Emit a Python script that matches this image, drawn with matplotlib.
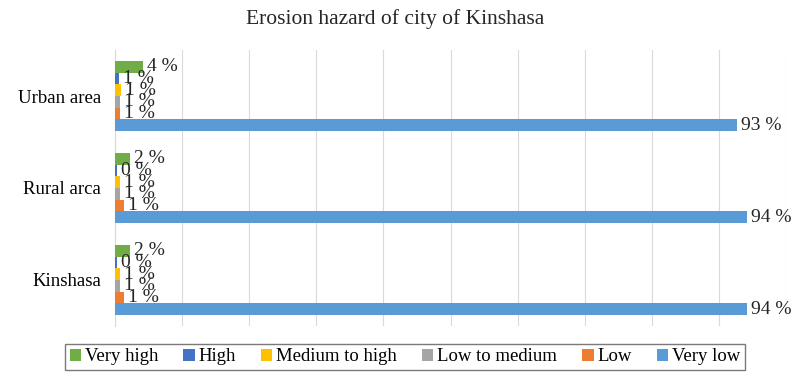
import numpy as np
import matplotlib.pyplot as plt

# ===== DATA =====
areas = ["Kinshasa", "Rural arca", "Urban area"]
classes = ["Very high", "High", "Medium to high", "Low to medium", "Low", "Very low"]
colors = ["#70AD47", "#4472C4", "#FFC000", "#A5A5A5", "#ED7D31", "#5B9BD5"]

# percent of area per hazard class (Kinshasa, Rural, Urban)
very_high = [2.3, 2.3, 4.2]
high = [0.3, 0.3, 0.6]
medium_high = [0.8, 0.8, 0.9]
low_medium = [0.7, 0.7, 0.7]
low = [1.4, 1.4, 0.7]
very_low = [94.2, 94.2, 92.7]
series = [very_high, high, medium_high, low_medium, low, very_low]

plt.rcParams["font.family"] = ["Liberation Serif", "DejaVu Serif"]

fig = plt.figure(figsize=(7.91, 3.78), dpi=100)
ax = fig.add_axes([0.1454, 0.1376, 0.8483, 0.7301])

y = np.arange(len(areas))
h = 0.127

for i, (name, vals, col) in enumerate(zip(classes, series, colors)):
    pos = y + (2.5 - i) * h
    ax.barh(pos, vals, height=h, color=col, label=name, zorder=3)
    for p, v in zip(pos, vals):
        ax.text(v + 0.6, p, f"{v:.0f} %", va="center", ha="left",
                fontsize=14, color="#262626", zorder=4)

# ===== AXES STYLE =====
ax.set_xlim(0, 100)
ax.set_ylim(-0.5, 2.5)
ax.set_xticks(np.arange(0, 101, 10))
ax.set_xticklabels([])
ax.tick_params(axis="x", length=0)
ax.tick_params(axis="y", length=0, labelsize=13.5, pad=10)
ax.set_yticks(y)
ax.set_yticklabels(areas)
ax.grid(axis="x", color="#D9D9D9", linewidth=0.8, zorder=0)
for s in ["top", "right", "bottom"]:
    ax.spines[s].set_visible(False)
ax.spines["left"].set_color("#D9D9D9")

fig.suptitle("Erosion hazard of city of Kinshasa", x=0.5, y=0.975,
             fontsize=15.5, color="#262626")

leg = fig.legend(loc="center", bbox_to_anchor=(0.512, 0.0556), ncol=6,
                 fontsize=13.5, frameon=True, fancybox=False,
                 handlelength=0.6, handleheight=0.6, handletextpad=0.2,
                 columnspacing=1.35, borderpad=0.25)
leg.get_frame().set_edgecolor("#595959")
leg.get_frame().set_linewidth(1.0)

fig.savefig("out.png", dpi=100)
